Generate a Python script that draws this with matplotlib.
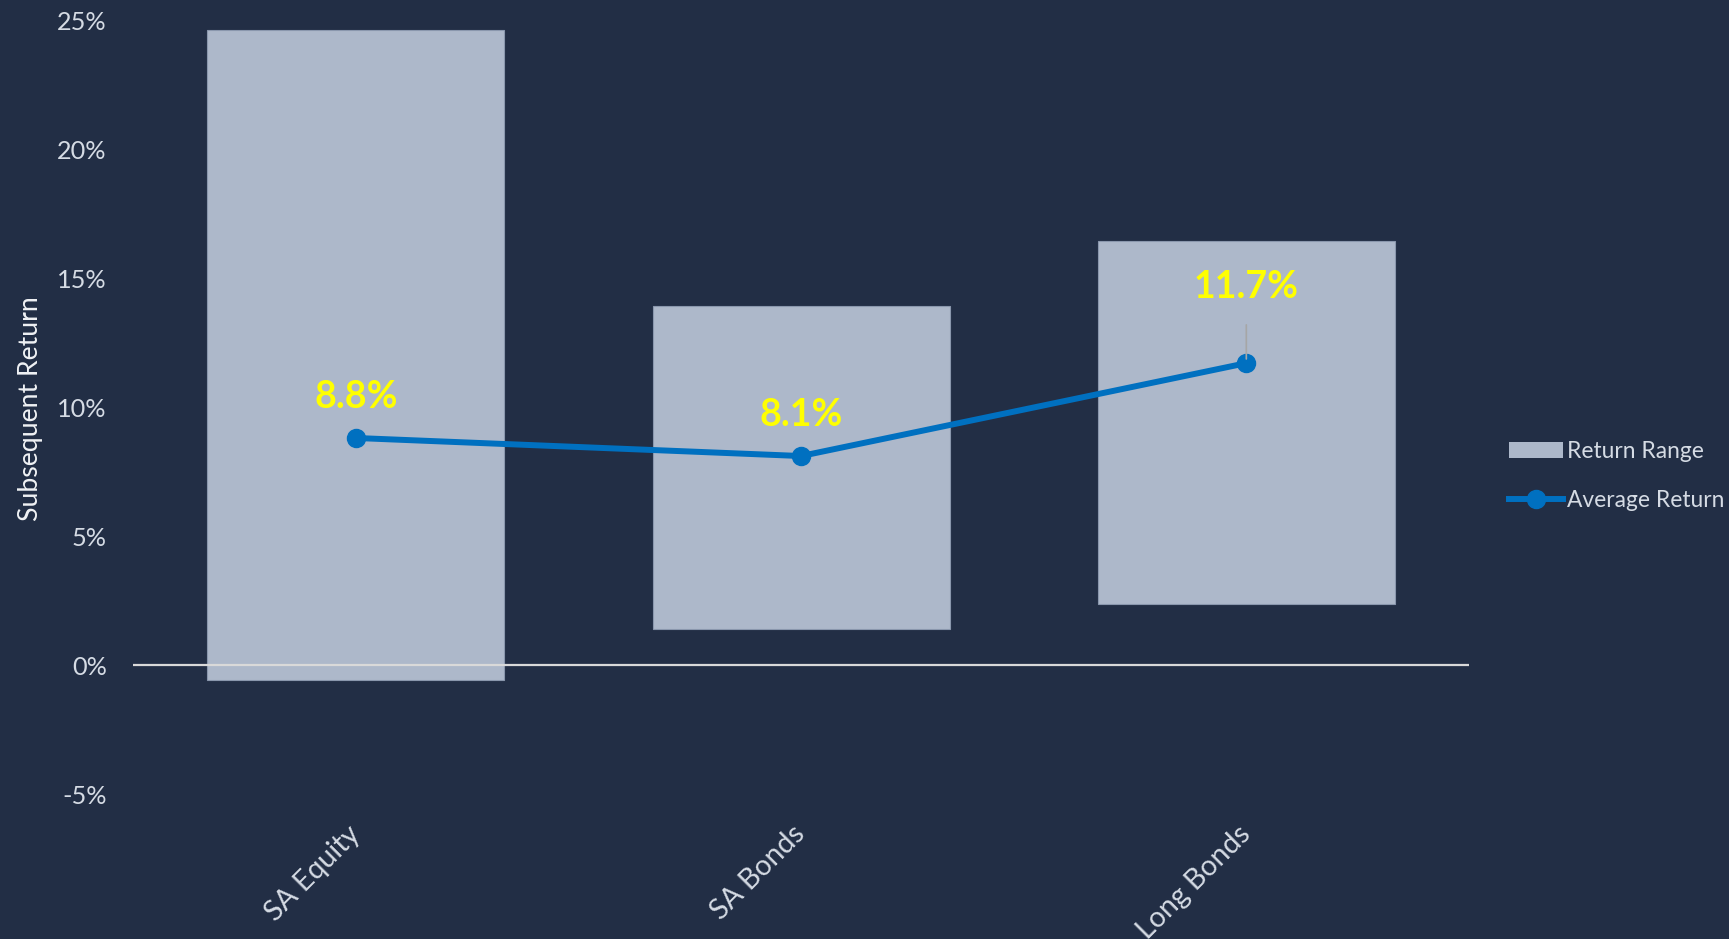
import matplotlib
matplotlib.use("Agg")
import matplotlib.pyplot as plt
from matplotlib.patches import Patch
from matplotlib.lines import Line2D
import numpy as np

plt.rcParams['font.family'] = ['Lato', 'DejaVu Sans']

categories = ["SA Equity", "SA Bonds", "Long Bonds"]
range_low = [-0.6, 1.4, 2.35]
range_high = [24.6, 13.9, 16.45]
avg_return = [8.8, 8.1, 11.7]
y_ticks = [-5, 0, 5, 10, 15, 20, 25]

BG = "#222e45"
BAR = "#adb8ca"
LINE = "#0070c0"
TEXT = "#d5dbe4"

fig = plt.figure(figsize=(17.29, 9.39), dpi=100, facecolor=BG)
ax = fig.add_axes([0.077, 0.1544, 0.7726, 0.8243], facecolor=BG)

x = np.arange(len(categories))
heights = [h - l for h, l in zip(range_high, range_low)]
ax.bar(x, heights, bottom=range_low, width=0.667, color=BAR,
       edgecolor="#8a97ad", linewidth=0.8, zorder=2)
ax.axhline(0, color="#d9d9d9", linewidth=1.6, zorder=3)
ax.plot(x, avg_return, color=LINE, linewidth=4.3, marker="o",
        markersize=13, zorder=4)

# value labels above the average-return markers (offset in percentage points)
label_offsets = [1.6, 1.6, 2.95]
for xi, v, off in zip(x, avg_return, label_offsets):
    if off > 2:
        ax.annotate(f"{v:.1f}%", xy=(xi, v), xytext=(xi, v + off),
                    ha="center", va="center", color="#ffff00",
                    fontsize=27, fontweight="bold", zorder=5,
                    arrowprops=dict(arrowstyle="-", color="#a6a6a6", lw=1.2,
                                    shrinkA=13, shrinkB=3))
    else:
        ax.text(xi, v + off, f"{v:.1f}%", ha="center", va="center",
                color="#ffff00", fontsize=27, fontweight="bold", zorder=5)

ax.set_xlim(-0.5, 2.5)
ax.set_ylim(-5, 25)
ax.set_yticks(y_ticks)
ax.set_yticklabels([f"{t}%" for t in y_ticks])
ax.tick_params(axis="y", length=0, pad=19, labelsize=18.2, labelcolor=TEXT)
ax.set_xticks(x)
ax.set_xticklabels(categories, rotation=45, ha="right",
                   rotation_mode="anchor")
ax.tick_params(axis="x", length=0, pad=26, labelsize=20.5, labelcolor=TEXT)
for lbl in ax.get_xticklabels():
    lbl.set_va("center")
for s in ax.spines.values():
    s.set_visible(False)

fig.text(0.0175, 0.565, "Subsequent Return", rotation=90, ha="center",
         va="center", fontsize=19.2, color="#f0f2f5")

handles = [Patch(facecolor=BAR, edgecolor="none"),
           Line2D([0], [0], color=LINE, linewidth=4.3, marker="o",
                  markersize=13)]
fig.legend(handles, ["Return Range", "Average Return"],
           loc="center left", bbox_to_anchor=(0.861, 0.493), frameon=False,
           fontsize=16.4, labelcolor=TEXT, handlelength=2.35, handletextpad=0.2,
           labelspacing=1.2)

fig.savefig("out.png", dpi=100, facecolor=BG)
